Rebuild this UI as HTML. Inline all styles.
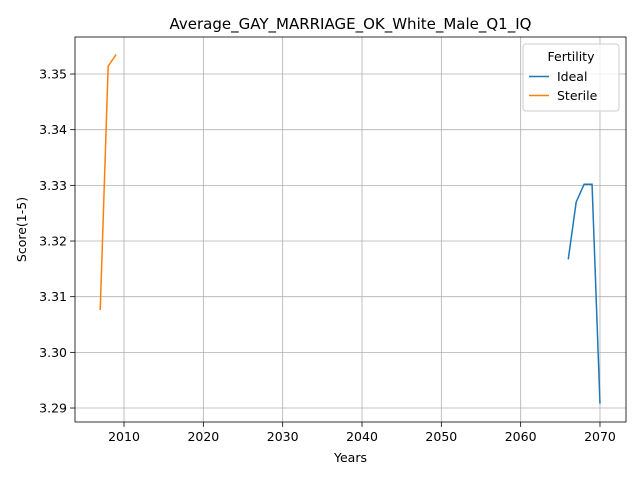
<!DOCTYPE html>
<html><head><meta charset="utf-8"><style>
body{margin:0;background:#fff;font-family:"DejaVu Sans","Liberation Sans",sans-serif;}
</style></head><body>
<svg id="chart" width="640" height="480" xmlns="http://www.w3.org/2000/svg"></svg>
<script>
const idealYears=[2066,2067,2068,2069,2070];
const idealValues=[3.3167,3.3270,3.3302,3.3302,3.2908];
const sterileYears=[2007,2008,2009];
const sterileValues=[3.3076,3.3514,3.3535];
const xTicks=[2010,2020,2030,2040,2050,2060,2070];
const yTicks=[3.29,3.30,3.31,3.32,3.33,3.34,3.35];

const L=75,R=626,T=37,B=422;
const xMin=2003.82,xMax=2073.28,yMin=3.28749,yMax=3.35665;
const sx=v=>L+(v-xMin)/(xMax-xMin)*(R-L);
const sy=v=>B-(v-yMin)/(yMax-yMin)*(B-T);
const svg=document.getElementById('chart');
const NS='http://www.w3.org/2000/svg';
function mk(tag,attrs,parent){const e=document.createElementNS(NS,tag);for(const k in attrs)e.setAttribute(k,attrs[k]);(parent||svg).appendChild(e);return e;}

xTicks.forEach(t=>{
  const x=sx(t);
  const g=mk('line',{x1:x,x2:x,y1:T,y2:B,stroke:'#b0b0b0','stroke-width':0.8});
  
  
  mk('line',{x1:x,x2:x,y1:B,y2:B+4.9,stroke:'#000','stroke-width':0.8});
  const tx=mk('text',{x:x,y:B+19,'text-anchor':'middle','font-size':12.5});
  tx.textContent=t;
  
  
});
yTicks.forEach(t=>{
  const y=sy(t);
  const g=mk('line',{x1:L,x2:R,y1:y,y2:y,stroke:'#b0b0b0','stroke-width':0.8});
  
  
  mk('line',{x1:L-4.9,x2:L,y1:y,y2:y,stroke:'#000','stroke-width':0.8});
  const tx=mk('text',{x:L-8,y:y+4.5,'text-anchor':'end','font-size':12.5});
  tx.textContent=t.toFixed(2);
  
  
});

function series(xs,ys,color,name){
  const p=mk('polyline',{points:xs.map((x,i)=>sx(x)+','+sy(ys[i])).join(' '),fill:'none',stroke:color,'stroke-width':1.5});
  
  
}
series(idealYears,idealValues,'#1f77b4','ideal-line');
series(sterileYears,sterileValues,'#ff7f0e','sterile-line');

const frame=mk('rect',{x:L,y:T,width:R-L,height:B-T,fill:'none',stroke:'#000','stroke-width':0.8});



const title=mk('text',{x:(L+R)/2,y:29,'text-anchor':'middle','font-size':15});
title.textContent='Average_GAY_MARRIAGE_OK_White_Male_Q1_IQ';


const xl=mk('text',{x:(L+R)/2,y:462,'text-anchor':'middle','font-size':12.5});
xl.textContent='Years';


const yl=mk('text',{x:26,y:(T+B)/2,'text-anchor':'middle','font-size':12.5,transform:'rotate(-90 26 '+((T+B)/2)+')'});
yl.textContent='Score(1-5)';



const lg=mk('g',{});


mk('rect',{x:523,y:44,width:96,height:67,rx:3,fill:'#fff','fill-opacity':0.8,stroke:'#ccc'},lg);
const lt=mk('text',{x:571,y:61,'text-anchor':'middle','font-size':12.5},lg);lt.textContent='Fertility';
[['Ideal','#1f77b4',81],['Sterile','#ff7f0e',100]].forEach(([n,c,y])=>{
  const e=mk('g',{},lg);
  
  
  mk('line',{x1:529,x2:549,y1:y-4.5,y2:y-4.5,stroke:c,'stroke-width':1.5},e);
  const t=mk('text',{x:557,y:y,'font-size':12.5},e);t.textContent=n;
});
</script>
</body></html>
